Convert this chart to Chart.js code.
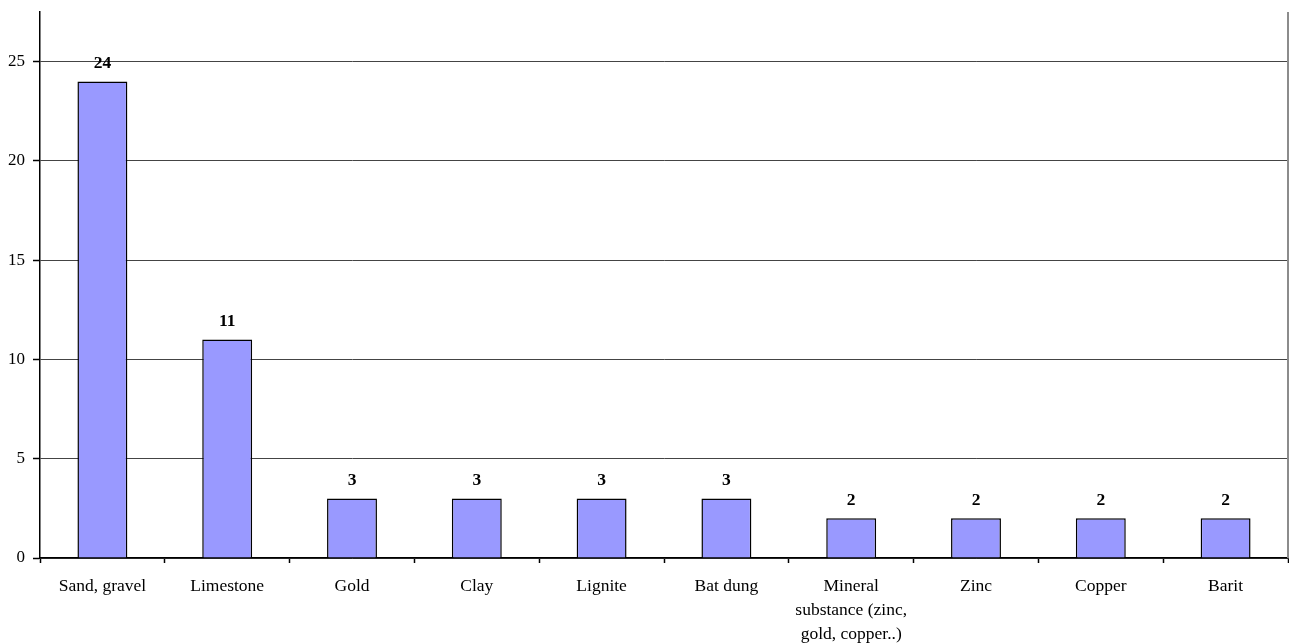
<!DOCTYPE html>
<html>
<head>
<meta charset="utf-8">
<script src="https://cdn.jsdelivr.net/npm/chart.js@4/dist/chart.umd.min.js"></script>
<style>
  html, body { margin: 0; padding: 0; background: #fff; }
  #wrap { width: 1289px; height: 644px; position: relative; }
</style>
</head>
<body>
<div id="wrap"><canvas id="minesChart"></canvas></div>
<script>
const categories = [
    "Sand, gravel",
    "Limestone",
    "Gold",
    "Clay",
    "Lignite",
    "Bat dung",
    ["Mineral", "substance (zinc,", "gold, copper..)"],
    "Zinc",
    "Copper",
    "Barit",
];
const counts = [24, 11, 3, 3, 3, 3, 2, 2, 2, 2];
const yTicks = [0, 5, 10, 15, 20, 25];

const serif = "'Liberation Serif', 'Times New Roman', serif";

// value above each bar
const barValues = {
    id: "barValues",
    afterDatasetsDraw(chart) {
        const ctx = chart.ctx;
        const meta = chart.getDatasetMeta(0);
        ctx.save();
        ctx.font = "bold 17.5px " + serif;
        ctx.fillStyle = "#000";
        ctx.textAlign = "center";
        ctx.textBaseline = "bottom";
        meta.data.forEach((bar, i) => {
            ctx.fillText(String(counts[i]), bar.x, bar.y - 9);
        });
        ctx.restore();
    },
};

// grey frame line on the right side of the plot
const rightEdge = {
    id: "rightEdge",
    afterDraw(chart) {
        const { ctx, chartArea } = chart;
        ctx.save();
        ctx.strokeStyle = "#8c8c8c";
        ctx.lineWidth = 2;
        ctx.beginPath();
        ctx.moveTo(chartArea.right, chartArea.top);
        ctx.lineTo(chartArea.right, chartArea.bottom);
        ctx.stroke();
        ctx.restore();
    },
};

new Chart(document.getElementById("minesChart"), {
    type: "bar",
    data: {
        labels: categories,
        datasets: [{
            data: counts,
            backgroundColor: "#9999ff",
            borderColor: "#000",
            borderWidth: 1.5,
            barPercentage: 0.4,
            categoryPercentage: 1,
        }],
    },
    options: {
        responsive: true,
        maintainAspectRatio: false,
        animation: false,
        layout: { padding: { top: 12, right: 1, left: 0, bottom: 0 } },
        plugins: {
            legend: { display: false },
            tooltip: { enabled: false },
        },
        scales: {
            x: {
                afterFit: (scale) => { scale.height = 86; },
                grid: {
                    offset: true,
                    drawOnChartArea: false,
                    tickLength: 5,
                    tickColor: "#000",
                    tickWidth: 1.5,
                },
                border: { color: "#000", width: 1.5 },
                ticks: {
                    color: "#000",
                    font: { family: serif, size: 17.5, lineHeight: 1.35 },
                    maxRotation: 0,
                    autoSkip: false,
                    padding: 12,
                },
            },
            y: {
                min: 0,
                max: 27.5,
                afterFit: (scale) => {
                    scale.width = 40;
                    scale.paddingTop = 0;
                    scale.paddingBottom = 0;
                },
                afterBuildTicks: (scale) => {
                    scale.ticks = yTicks.map((v) => ({ value: v }));
                },
                grid: {
                    color: "#444",
                    lineWidth: 1,
                    tickLength: 7,
                    tickColor: "#000",
                    tickWidth: 1.5,
                },
                border: { color: "#000", width: 1.5 },
                ticks: {
                    color: "#000",
                    font: { family: serif, size: 17 },
                    padding: 8,
                },
            },
        },
    },
    plugins: [barValues, rightEdge],
});
</script>
</body>
</html>
